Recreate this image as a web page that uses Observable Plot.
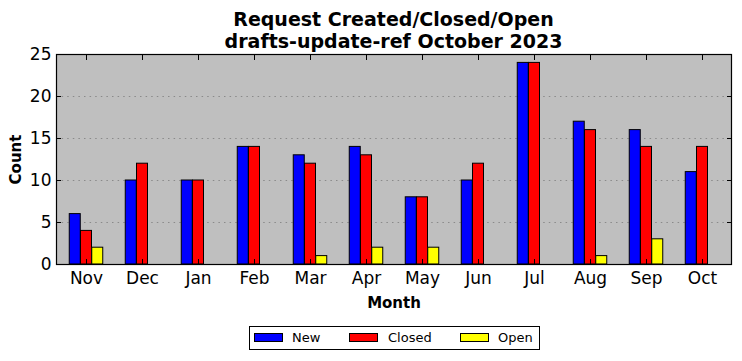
<!DOCTYPE html>
<html>
<head>
<meta charset="utf-8">
<script src="https://cdn.jsdelivr.net/npm/d3@7"></script>
<script src="https://cdn.jsdelivr.net/npm/@observablehq/plot@0.6"></script>
<style>
  body { margin: 0; background: white; font-family: "DejaVu Sans", sans-serif; }
  #wrap { position: relative; width: 742px; height: 361px; }
  #title { margin-left: 56px; width: 675px; height: 52px; padding-top: 8px; box-sizing: border-box;
           text-align: center; font-weight: bold; font-size: 19px; line-height: 22px; }
  #legend { position: absolute; left: 249px; top: 326px; width: 291px; height: 24px; box-sizing: border-box;
            border: 1px solid black; font-size: 13px; }
  .item { position: absolute; top: 0; height: 22px; line-height: 22px; }
  .sw { position: absolute; top: 6px; width: 29px; height: 9px; border: 1px solid black; box-sizing: border-box; }
</style>
</head>
<body>
<div id="wrap">
  <div id="title">Request Created/Closed/Open<br>drafts-update-ref October 2023</div>
  <div id="chart"></div>
  <div id="legend"></div>
</div>
<script>
const months = ["Nov","Dec","Jan","Feb","Mar","Apr","May","Jun","Jul","Aug","Sep","Oct"];
const newCounts    = [6, 10, 10, 14, 13, 14, 8, 10, 24, 17, 16, 11];
const closedCounts = [4, 12, 10, 14, 12, 13, 8, 12, 24, 16, 14, 14];
const openCounts   = [2, 0, 0, 0, 1, 2, 2, 0, 0, 1, 3, 0];
const seriesNames  = ["New", "Closed", "Open"];
const seriesColors = ["#0000ff", "#ff0000", "#ffff00"];
const yTicks = [0, 5, 10, 15, 20, 25];

const seriesValues = [newCounts, closedCounts, openCounts];
const width = 742, marginLeft = 56, marginRight = 11;
const bandW = (width - marginLeft - marginRight) / months.length;
const barW = bandW * 0.2;

const barMarks = seriesNames.map((s, i) => {
  const data = months.map((m, j) => ({month: m, count: seriesValues[i][j]}));
  const insetLeft = bandW * (0.2 + 0.2 * i);
  const insetRight = bandW - barW - insetLeft;
  return Plot.barY(data, {x: "month", y: "count", fill: seriesColors[i], stroke: "black", strokeWidth: 1, insetLeft, insetRight});
});

const chart = Plot.plot({
  width, height: 258,
  marginLeft, marginRight, marginTop: 2, marginBottom: 46,
  style: {fontFamily: "DejaVu Sans", fontSize: "17px", background: "white", color: "black", overflow: "visible"},
  x: {type: "band", domain: months, padding: 0},
  y: {domain: [0, 25]},
  marks: [
    Plot.frame({fill: "#bfbfbf"}),
    Plot.gridY([5, 10, 15, 20], {stroke: "#8a8a8a", strokeOpacity: 1, strokeDasharray: "1.5,4.1"}),
    ...barMarks,
    Plot.frame({stroke: "black", strokeWidth: 1.2}),
    Plot.axisX({anchor: "bottom", tickSize: 0, tickPadding: 7, fontSize: 17, label: null}),
    Plot.axisX({anchor: "top", tickSize: -5, tickFormat: () => "", label: null}),
    Plot.axisX({anchor: "bottom", tickSize: -5, tickFormat: () => "", label: null}),
    Plot.axisY({anchor: "left", ticks: yTicks, tickSize: 0, tickPadding: 5, fontSize: 17, label: null}),
    Plot.axisY({anchor: "left", ticks: yTicks, tickSize: -5, tickFormat: () => "", label: null}),
    Plot.axisY({anchor: "right", ticks: yTicks, tickSize: -5, tickFormat: () => "", label: null}),
    Plot.text(["Count"], {frameAnchor: "left", textAnchor: "middle", lineAnchor: "middle", dx: -40, rotate: -90, fontWeight: "bold", fontSize: 15}),
    Plot.text(["Month"], {frameAnchor: "bottom", textAnchor: "middle", lineAnchor: "middle", dy: 39, fontWeight: "bold", fontSize: 15})
  ]
});
document.getElementById("chart").appendChild(chart);

const legend = document.getElementById("legend");
const swX = [4, 99, 210], txtX = [42, 138, 248];
seriesNames.forEach((s, i) => {
  const sw = document.createElement("div");
  sw.className = "sw";
  sw.style.left = swX[i] + "px";
  sw.style.background = seriesColors[i];
  legend.appendChild(sw);
  const t = document.createElement("div");
  t.className = "item";
  t.style.left = txtX[i] + "px";
  t.textContent = s;
  legend.appendChild(t);
});
</script>
</body>
</html>
